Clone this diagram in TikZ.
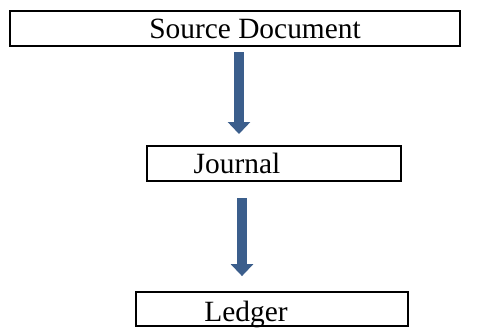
\documentclass[tikz,border=0pt]{standalone}
\usepackage{fontspec}
\setmainfont{Liberation Serif}
\usetikzlibrary{positioning,arrows.meta,calc}
\definecolor{flowblue}{HTML}{3B5E8C}

\begin{document}
\begin{tikzpicture}[x=0.5pt, y=-0.5pt, every node/.style={font=\fontsize{14.7}{17}\selectfont},
    stage/.style={draw, line width=1pt, minimum height=17.5pt, inner sep=0pt},
    stagetext/.style={anchor=base, inner sep=0pt},
    flowarrow/.style={flowblue, line width=5pt, -{Triangle[width=11pt, length=6pt]}}]
    \useasboundingbox (0,0) rectangle (496,327);
    % boxes
    \node[stage, minimum width=225pt] (src) at (235,28.5) {};
    \node[stage, minimum width=127pt] (jrn) at (274,163.5) {};
    \node[stage, minimum width=136pt, minimum height=17pt] (ldg) at (272,308.7) {};
    \node[stagetext] (srctext) at (255,38) {Source Document};
    \node[stagetext] (jrntext) at (237,173) {Journal};
    \node[stagetext] (ldgtext) at (246,321) {Ledger};
    % arrows
    \coordinate (a1) at (239,0);
    \coordinate (a2) at (242,0);
    \draw[flowarrow, shorten <=2.5pt, shorten >=5.5pt] (src.south -| a1) -- (jrn.north -| a1);
    \draw[flowarrow, shorten <=8pt, shorten >=7.3pt] (jrn.south -| a2) -- (ldg.north -| a2);
  \end{tikzpicture}
\end{document}
